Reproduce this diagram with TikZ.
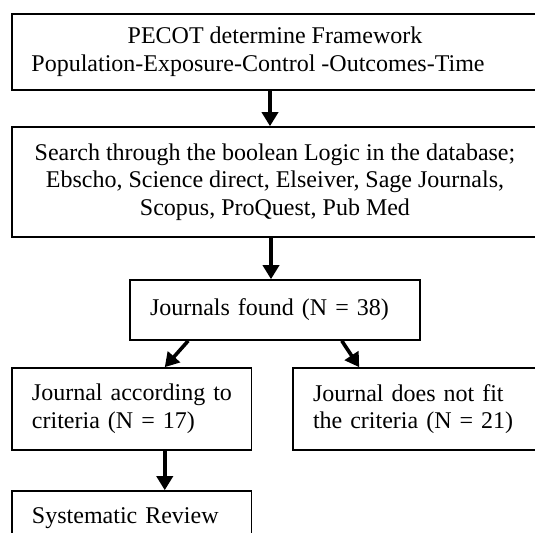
\documentclass[tikz,border=0pt]{standalone}
\usepackage{fontspec}
\setmainfont{Liberation Serif}
\usepackage{tikz}
\usetikzlibrary{shapes,arrows.meta,positioning}

\begin{document}
\begin{tikzpicture}[
    x=0.5pt, y=-0.5pt,
    box/.style={rectangle, draw, line width=0.8pt, inner sep=0pt, font=\fontsize{12pt}{13.8pt}\selectfont},
    leftbox/.style={box, align=left, inner xsep=10pt},
    arrow/.style={-{Triangle[length=7pt,width=8pt]}, line width=1.8pt}
]
    \useasboundingbox (0,0) rectangle (535,533);
    \clip (0,0) rectangle (535,533);

    \node[box, minimum width=263pt, minimum height=38pt, align=center] (pecot) at (275,52) {PECOT determine Framework\\Population-Exposure-Control -Outcomes-Time\hspace*{17pt}};
    \node[box, minimum width=263pt, minimum height=55pt, align=center] (search) at (275,182) {Search through the boolean Logic in the database;\\Ebscho, Science direct, Elseiver, Sage Journals,\\Scopus, ProQuest, Pub Med};
    \node[leftbox, text width=125pt, minimum height=30pt] (found) at (275,310) {Journals found (N = 38)};
    \node[leftbox, text width=99.75pt, minimum height=41pt] (include) at (131.75,409) {\mbox{Journal according to}\\criteria (N = 17)};
    \node[leftbox, text width=102.5pt, minimum height=41pt] (exclude) at (415.5,409) {\mbox{Journal does not fit}\\\mbox{the criteria (N = 21)}};
    \node[leftbox, text width=99.75pt, minimum height=27pt] (review) at (131.75,518) {Systematic Review};

    \draw[arrow] ([xshift=-2.5pt]pecot.south) -- ([xshift=-2.5pt]search.north);
    \draw[arrow] ([xshift=-2pt]search.south) -- ([xshift=-2pt]found.north);
    \draw[arrow] ([xshift=29.5pt]found.south west) -- ([xshift=16.5pt]include.north);
    \draw[arrow] ([xshift=-39.5pt]found.south east) -- ([xshift=33.5pt]exclude.north west);
    \draw[arrow] ([xshift=16.5pt]include.south) -- ([xshift=16.5pt]review.north);
\end{tikzpicture}
\end{document}
